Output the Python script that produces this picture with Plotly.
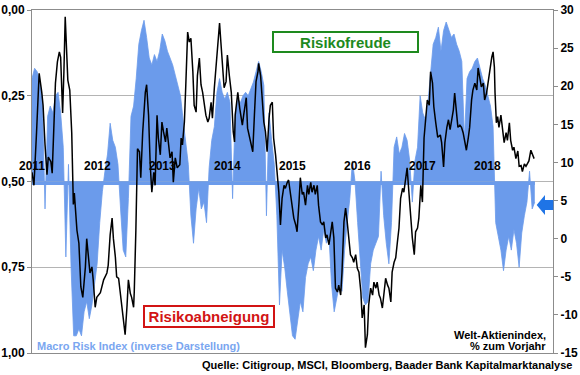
import plotly.graph_objects as go
import numpy as np

# ---------------- data ----------------
# Macro Risk Index (inverse display), left axis, sampled every 0.04 year from 2011.0
risk_start = 2011.0
risk_step = 0.04
risk_values = [
    0.20, 0.17, 0.18, 0.21, 0.26, 0.58, 0.31, 0.28, 0.30, 0.25,
    0.24, 0.30, 0.40, 0.72, 0.45, 0.75, 0.95, 0.95, 0.93, 0.95,
    0.88, 0.85, 0.90, 0.86, 0.80, 0.74, 0.62, 0.53, 0.47, 0.42,
    0.33, 0.38, 0.40, 0.45, 0.58, 0.70, 0.72, 0.55, 0.31, 0.28,
    0.20, 0.10, 0.06, 0.03, 0.08, 0.14, 0.16, 0.13, 0.15, 0.12,
    0.07, 0.09, 0.12, 0.14, 0.16, 0.19, 0.22, 0.25, 0.32, 0.38,
    0.45, 0.60, 0.68, 0.58, 0.52, 0.58, 0.56, 0.62, 0.46, 0.38,
    0.34, 0.24, 0.20, 0.24, 0.26, 0.24, 0.27, 0.55, 0.30, 0.26,
    0.27, 0.25, 0.24, 0.25, 0.23, 0.21, 0.18, 0.15, 0.18, 0.22,
    0.60, 0.30, 0.38, 0.45, 0.60, 0.86, 0.70, 0.75, 0.82, 0.88,
    0.95, 0.96, 0.90, 0.85, 0.88, 0.78, 0.74, 0.72, 0.76, 0.70,
    0.66, 0.70, 0.64, 0.68, 0.66, 0.80, 0.88, 0.84, 0.80, 0.82,
    0.70, 0.62, 0.55, 0.44, 0.50, 0.62, 0.72, 0.84, 0.86, 0.85,
    0.74, 0.70, 0.68, 0.66, 0.47, 0.60, 0.68, 0.74, 0.62, 0.40,
    0.37, 0.42, 0.40, 0.36, 0.38, 0.44, 0.56, 0.44, 0.40, 0.25,
    0.30, 0.32, 0.27, 0.18, 0.10, 0.08, 0.05, 0.12, 0.06, 0.035,
    0.06, 0.08, 0.07, 0.10, 0.12, 0.15, 0.38, 0.20, 0.18, 0.17,
    0.15, 0.14, 0.17, 0.20, 0.22, 0.25, 0.28, 0.34, 0.62, 0.66,
    0.70, 0.76, 0.70, 0.66, 0.70, 0.64, 0.68, 0.75, 0.65, 0.60,
    0.56, 0.47, 0.58, 0.56,
]
risk_dates = risk_start + risk_step * np.arange(len(risk_values))

# Welt-Aktienindex, % zum Vorjahr (right axis)
stock_dates = [
    2011.00, 2011.03, 2011.07, 2011.11, 2011.15, 2011.17, 2011.20, 2011.23, 2011.25, 2011.29,
    2011.31, 2011.34, 2011.36, 2011.39, 2011.42, 2011.44, 2011.47, 2011.49, 2011.51, 2011.55,
    2011.58, 2011.61, 2011.625, 2011.635, 2011.65, 2011.67, 2011.69, 2011.72, 2011.75, 2011.78,
    2011.82, 2011.84, 2011.87, 2011.89, 2011.92, 2011.94, 2011.97, 2011.995, 2012.05, 2012.10,
    2012.15, 2012.17, 2012.20, 2012.23, 2012.25, 2012.28, 2012.30, 2012.33, 2012.35, 2012.40,
    2012.43, 2012.46, 2012.48, 2012.51, 2012.53, 2012.56, 2012.57, 2012.595, 2012.61, 2012.62,
    2012.65, 2012.67, 2012.70, 2012.74, 2012.76, 2012.79, 2012.815, 2012.84, 2012.87, 2012.89,
    2012.92, 2012.94, 2012.97, 2012.995, 2013.02, 2013.05, 2013.07, 2013.10, 2013.12, 2013.15,
    2013.17, 2013.20, 2013.23, 2013.27, 2013.29, 2013.31, 2013.34, 2013.36, 2013.39, 2013.415,
    2013.44, 2013.47, 2013.49, 2013.52, 2013.54, 2013.57, 2013.595, 2013.62, 2013.65, 2013.67,
    2013.70, 2013.72, 2013.75, 2013.77, 2013.80, 2013.83, 2013.85, 2013.88, 2013.90, 2013.93,
    2013.95, 2013.98, 2014.00, 2014.03, 2014.06, 2014.09, 2014.11, 2014.12, 2014.16, 2014.19,
    2014.23, 2014.25, 2014.29, 2014.31, 2014.34, 2014.36, 2014.39, 2014.415, 2014.44, 2014.47,
    2014.48, 2014.51, 2014.53, 2014.56, 2014.585, 2014.61, 2014.64, 2014.66, 2014.69, 2014.71,
    2014.74, 2014.76, 2014.79, 2014.815, 2014.84, 2014.87, 2014.89, 2014.92, 2014.94, 2014.97,
    2014.995, 2015.02, 2015.05, 2015.07, 2015.10, 2015.12, 2015.15, 2015.17, 2015.20, 2015.23,
    2015.25, 2015.28, 2015.30, 2015.33, 2015.35, 2015.38, 2015.40, 2015.43, 2015.46, 2015.48,
    2015.51, 2015.53, 2015.56, 2015.585, 2015.61, 2015.635, 2015.66, 2015.69, 2015.71, 2015.74,
    2015.76, 2015.79, 2015.815, 2015.84, 2015.87, 2015.89, 2015.92, 2015.94, 2015.97, 2015.995,
    2016.02, 2016.05, 2016.07, 2016.10, 2016.12, 2016.15, 2016.17, 2016.20, 2016.23, 2016.25,
    2016.28, 2016.30, 2016.33, 2016.35, 2016.38, 2016.40, 2016.43, 2016.46, 2016.48, 2016.51,
    2016.53, 2016.56, 2016.585, 2016.61, 2016.635, 2016.66, 2016.69, 2016.71, 2016.74, 2016.76,
    2016.79, 2016.815, 2016.84, 2016.87, 2016.89, 2016.92, 2016.94, 2016.97, 2016.995, 2017.02,
    2017.05, 2017.07, 2017.10, 2017.12, 2017.15, 2017.17, 2017.20, 2017.23, 2017.27, 2017.29,
    2017.32, 2017.34, 2017.37, 2017.395, 2017.42, 2017.45, 2017.47, 2017.49, 2017.52, 2017.54,
    2017.57, 2017.595, 2017.62, 2017.65, 2017.67, 2017.70, 2017.72, 2017.75, 2017.77, 2017.80,
    2017.83, 2017.85, 2017.88, 2017.90, 2017.93, 2017.95, 2017.98, 2018.00, 2018.03, 2018.06,
    2018.08, 2018.10, 2018.11, 2018.13, 2018.15, 2018.17, 2018.20, 2018.23, 2018.25, 2018.28,
    2018.30, 2018.33, 2018.35, 2018.38, 2018.40, 2018.43, 2018.46, 2018.48, 2018.51, 2018.53,
    2018.56, 2018.585, 2018.61, 2018.63, 2018.66, 2018.69, 2018.71,
]
stock_values = [
    8.7, 7.0, 14.0, 21.7, 19.2, 17.5, 12.3, 8.4, 10.7, 10.1,
    8.6, 17.5, 20.4, 23.2, 24.5, 23.8, 16.5, 21.9, 29.1, 20.8,
    19.5, 13.9, 7.0, 4.5, 6.0, 3.4, 1.1, -0.6, -6.3, -7.7,
    -3.7, 0.0, -2.8, -4.5, -3.7, -5.4, -9.0, -7.7, -7.1, -5.4,
    -4.5, -3.5, 0.5, 2.7, 0.0, -2.4, -5.0, -5.2, -6.7, -10.3,
    -12.6, -8.7, -5.4, -7.2, -7.7, -9.0, -7.0, 1.1, 7.7, 11.8,
    11.4, 8.0, 14.0, 19.2, 20.2, 16.2, 9.7, 6.1, 8.7, 7.0,
    16.2, 13.2, 11.0, 15.3, 14.0, 12.7, 14.5, 12.3, 10.6, 11.4,
    7.4, 10.6, 9.3, 9.7, 13.2, 12.3, 15.3, 19.8, 27.1, 25.8,
    26.3, 21.9, 17.5, 16.6, 21.4, 23.7, 20.2, 19.2, 17.1, 16.2,
    15.3, 15.8, 17.9, 15.8, 19.8, 23.2, 25.0, 28.3, 25.8, 22.8,
    19.8, 20.6, 24.1, 21.4, 19.2, 14.0, 12.7, 16.2, 19.2, 17.1,
    14.9, 16.2, 18.5, 14.5, 13.2, 12.3, 11.4, 16.2, 20.6, 21.9,
    23.0, 21.4, 18.5, 15.3, 14.0, 11.4, 15.8, 17.5, 17.9, 13.2,
    11.0, 8.7, 6.1, 1.8, 5.3, 7.0, 6.6, 7.4, 7.7, 5.8,
    4.4, 2.7, 1.8, 0.9, 4.8, 8.0, 5.8, 6.1, 4.4, 7.0,
    5.8, 7.4, 6.1, 7.0, 5.8, 7.0, 4.4, 2.2, 1.8, 2.2,
    0.1, 0.5, -0.8, 0.5, 2.2, 0.1, -6.5, -7.0, -6.1, -7.4,
    -4.4, 2.2, 4.0, 2.2, 0.1, -2.1, -2.5, -3.1, -2.1, -3.9,
    -4.4, -7.0, -10.4, -8.7, -14.3, -12.6, -8.7, -6.5, -7.4, -5.7,
    -6.5, -5.7, -7.4, -7.8, -9.1, -7.4, -5.2, -6.1, -6.5, -8.3,
    -4.4, -3.1, -2.5, -0.5, 1.4, 5.3, 6.6, 6.1, 8.0, 9.3,
    5.8, 2.2, 0.1, -2.1, 0.9, 1.4, 2.7, 7.0, 4.8, 13.2,
    16.2, 18.2, 17.5, 21.9, 20.4, 17.3, 15.2, 13.3, 13.6, 12.6,
    9.4, 12.6, 14.6, 15.6, 14.3, 16.0, 16.9, 19.1, 16.5, 14.6,
    14.9, 14.6, 13.9, 12.6, 11.6, 13.3, 14.6, 18.2, 19.5, 20.4,
    19.5, 22.4, 20.8, 19.9, 20.4, 18.2, 19.1, 20.4, 22.5, 23.8,
    24.5, 22.5, 19.1, 15.2, 16.0, 14.6, 16.2, 13.9, 12.6, 13.9,
    12.9, 15.2, 12.9, 11.6, 12.0, 10.5, 11.5, 9.5, 9.6, 8.8,
    9.8, 9.5, 9.8, 10.2, 11.6, 11.0, 10.5,
]

risk_baseline = 0.5
x_range = [2011.0, 2019.0]
year_labels = ["2011", "2012", "2013", "2014", "2015", "2016", "2017", "2018"]
year_positions = [2011, 2012, 2013, 2014, 2015, 2016, 2017, 2018]
left_tickvals = [0.0, 0.25, 0.5, 0.75, 1.0]
left_ticktext = ["0,00", "0,25", "0,50", "0,75", "1,00"]
right_tickvals = [-15, -10, -5, 0, 5, 10, 15, 20, 25, 30]
right_ticktext = ["-15", "-10", "-5", "0", "5", "10", "15", "20", "25", "30"]

# ---------------- styling ----------------
FONT = "Liberation Sans, Arial, sans-serif"
BLUE = "#6B9BEB"
AXIS = "#8C8C8C"

fig = go.Figure()

fig.add_trace(go.Scatter(
    x=[risk_dates[0], risk_dates[-1]], y=[risk_baseline, risk_baseline],
    mode="lines", line=dict(width=0, color=BLUE), hoverinfo="skip", showlegend=False,
))
fig.add_trace(go.Scatter(
    x=risk_dates, y=risk_values, mode="lines", fill="tonexty",
    fillcolor=BLUE, line=dict(width=0.8, color=BLUE), showlegend=False,
    name="Macro Risk Index",
))
fig.add_trace(go.Scatter(
    x=[risk_dates[0], risk_dates[-1]], y=[risk_baseline + 0.005, risk_baseline + 0.005],
    mode="lines", line=dict(width=3.5, color=BLUE), hoverinfo="skip", showlegend=False,
))
fig.add_trace(go.Scatter(
    x=stock_dates, y=stock_values, mode="lines", yaxis="y2",
    line=dict(width=1.5, color="black"), showlegend=False,
    name="Welt-Aktienindex",
))

annotations = []
for lbl, pos in zip(year_labels, year_positions):
    annotations.append(dict(
        x=pos, y=0.455, xref="x", yref="y", text=lbl, showarrow=False,
        font=dict(family=FONT, size=12, color="black", weight="bold"),
        xanchor="center", yanchor="middle",
    ))

annotations += [
    dict(x=0.6017, y=0.908, xref="paper", yref="paper", text="Risikofreude",
         showarrow=False, font=dict(family=FONT, size=15, color="#1E8A1E", weight="bold"),
         bgcolor="white", bordercolor="#1E8A1E", borderwidth=2, borderpad=1,
         width=141, height=16, xanchor="center", yanchor="middle"),
    dict(x=0.3397, y=0.1064, xref="paper", yref="paper", text="Risikoabneigung",
         showarrow=False, font=dict(family=FONT, size=15, color="#D21414", weight="bold"),
         bgcolor="white", bordercolor="#D21414", borderwidth=2, borderpad=1,
         width=126, height=17, xanchor="center", yanchor="middle"),
    dict(x=0.005, y=0.021, xref="paper", yref="paper",
         text="Macro Risk Index (inverse Darstellung)", showarrow=False,
         font=dict(family=FONT, size=11, color="#7AA6F0", weight="bold"),
         xanchor="left", yanchor="middle"),
    dict(x=0.9904, y=0.0525, xref="paper", yref="paper", text="Welt-Aktienindex,",
         showarrow=False, font=dict(family=FONT, size=11, color="black", weight="bold"),
         xanchor="right", yanchor="middle"),
    dict(x=0.9904, y=0.0205, xref="paper", yref="paper", text="% zum Vorjahr",
         showarrow=False, font=dict(family=FONT, size=11, color="black", weight="bold"),
         xanchor="right", yanchor="middle"),
    dict(x=1.0403, y=-0.035, xref="paper", yref="paper",
         text="Quelle: Citigroup, MSCI, Bloomberg, Baader Bank Kapitalmarktanalyse",
         showarrow=False, font=dict(family=FONT, size=11, color="black", weight="bold"),
         xanchor="right", yanchor="middle"),
]

arrow_path = ("M 0.9687 0.4315 L 0.9846 0.4606 L 0.9846 0.4461 L 1.0006 0.4461 "
              "L 1.0006 0.4169 L 0.9846 0.4169 L 0.9846 0.4023 Z")

fig.update_layout(
    template="none",
    width=580, height=375,
    margin=dict(l=32, r=27, t=10, b=22, autoexpand=False),
    paper_bgcolor="white", plot_bgcolor="white",
    font=dict(family=FONT, color="black"),
    xaxis=dict(range=x_range, showticklabels=False, ticks="", showgrid=False,
               zeroline=False, showline=True, mirror=True, linecolor=AXIS, linewidth=1,
               automargin=False),
    yaxis=dict(range=[1, 0], tickvals=left_tickvals, ticktext=left_ticktext,
               showgrid=True, gridcolor="#B4B4B4", gridwidth=1, zeroline=False,
               showline=True, linecolor=AXIS, ticks="outside", ticklen=4, tickcolor=AXIS,
               automargin=False,
               tickfont=dict(family=FONT, size=12, color="black", weight="bold")),
    yaxis2=dict(range=[-15, 30], overlaying="y", side="right",
                tickvals=right_tickvals, ticktext=right_ticktext,
                showgrid=False, zeroline=False, showline=True, linecolor=AXIS,
                ticks="outside", ticklen=4, tickcolor=AXIS, automargin=False,
                tickfont=dict(family=FONT, size=12, color="black", weight="bold")),
    annotations=annotations,
    shapes=[dict(type="path", path=arrow_path, xref="paper", yref="paper",
                 fillcolor="#1F74E6", line=dict(width=0))],
    showlegend=False,
)

fig.write_html(
    "out.html",
    config={"displayModeBar": False},
    post_script="document.body.style.margin='0px';document.body.style.overflow='hidden';",
)
